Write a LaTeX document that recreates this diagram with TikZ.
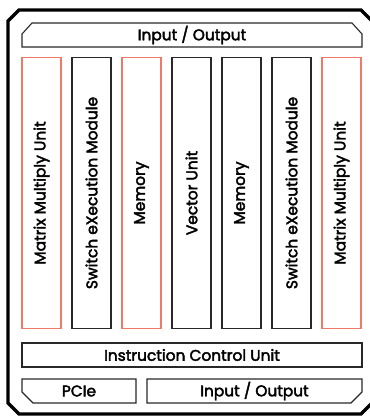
\documentclass[tikz,border=0pt]{standalone}
\usepackage{fontspec}
\setmainfont{Poppins}
\newfontfamily\unitfont{Poppins}[FakeBold=2.6]
\usetikzlibrary{positioning}
\definecolor{unitred}{RGB}{240,122,104}
\definecolor{boxline}{RGB}{40,40,40}

\begin{document}
\begin{tikzpicture}[x=1pt,y=-1pt,
	frame/.style={line width=3.2pt,black,line join=miter},
	box/.style={draw=boxline,line width=1.1pt},
	label/.style={font=\unitfont\fontsize{15.4}{17}\selectfont,text=black},
	column/.style={box,rotate=90,minimum width=271pt,minimum height=39pt,inner sep=0pt,label}]
	\useasboundingbox (0,0) rectangle (370,416);
	\draw[frame] (8,21) -- (19,10) -- (361,10) -- (373,22) -- (373,402) -- (361,414) -- (19,414) -- (8,403) -- cycle;
	\draw[box] (22,34) -- (32,23) -- (352,23) -- (362,34) -- (362,47) -- (22,47) -- cycle;
	\node[label] (topio) at (192,35) {Input / Output};
	\foreach \name/\txt/\col [count=\i from 0] in {mmuA/Matrix Multiply Unit/unitred,sxmA/Switch eXecution Module/boxline,memA/Memory/unitred,vu/Vector Unit/boxline,memB/Memory/boxline,sxmB/Switch eXecution Module/boxline,mmuB/Matrix Multiply Unit/unitred}
		\node[column,draw=\col] (\name) at (41.5+50*\i,193) {\txt};
	\draw[box] (22,343) rectangle (362,367);
	\node[label] (icu) at (192,355) {Instruction Control Unit};
	\draw[box] (22,379) -- (136,379) -- (136,403) -- (33,403) -- (22,392) -- cycle;
	\node[label] (pcie) at (79,391) {PCIe};
	\draw[box] (147,379) -- (362,379) -- (362,392) -- (351,403) -- (147,403) -- cycle;
	\node[label] (botio) at (254.5,391) {Input / Output};
\end{tikzpicture}
\end{document}
